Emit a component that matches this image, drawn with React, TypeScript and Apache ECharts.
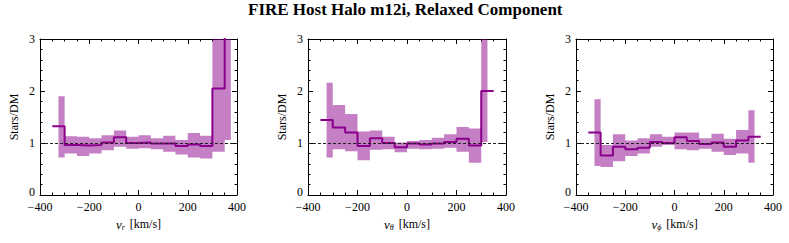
import React, { useEffect, useRef } from 'react';
import * as echarts from 'echarts';

const TITLE = 'FIRE Host Halo m12i, Relaxed Component';
const Y_NAME = 'Stars/DM';
const X_NAMES = ['{v|v}{s|r} [km/s]', '{v|v}{s|θ} [km/s]', '{v|v}{s|ϕ} [km/s]'];

// Panel 1: v_r
const vrLineEdges = [-350, -300, -250, -200, -150, -100, -50, 0, 50, 100, 150, 200, 250, 300, 350, 400];
const vrLine = [1.32, 0.96, 0.95, 0.96, 1.01, 1.11, 1.0, 1.01, 0.99, 0.99, 0.94, 0.97, 0.94, 2.05, 3.6];
const vrBandEdges = [-325, -300, -250, -200, -150, -100, -50, 0, 50, 100, 150, 200, 250, 300, 350, 375];
const vrLo = [0.72, 0.8, 0.75, 0.8, 0.86, 0.93, 0.89, 0.9, 0.88, 0.83, 0.78, 0.72, 0.7, 0.83, 1.06];
const vrHi = [1.9, 1.13, 1.12, 1.09, 1.15, 1.24, 1.12, 1.15, 1.09, 1.14, 1.06, 1.19, 1.14, 3.6, 3.6];

// Panel 2: v_theta
const vthLineEdges = [-350, -300, -250, -200, -150, -100, -50, 0, 50, 100, 150, 200, 250, 300, 350];
const vthLine = [1.44, 1.3, 1.2, 0.94, 1.09, 1.0, 0.92, 0.99, 0.97, 0.99, 1.02, 1.08, 0.95, 2.0];
const vthBandEdges = [-325, -300, -250, -200, -150, -100, -50, 0, 50, 100, 150, 200, 250, 300, 325];
const vthLo = [0.72, 0.88, 0.84, 0.67, 0.87, 0.88, 0.82, 0.89, 0.88, 0.89, 0.91, 0.83, 0.62, 1.02];
const vthHi = [2.16, 1.73, 1.56, 1.22, 1.24, 1.12, 1.01, 1.04, 1.06, 1.1, 1.17, 1.31, 1.28, 3.6];

// Panel 3: v_phi
const vphLineEdges = [-350, -300, -250, -200, -150, -100, -50, 0, 50, 100, 150, 200, 250, 300, 350];
const vphLine = [1.2, 0.76, 0.93, 0.88, 0.91, 1.02, 1.0, 1.11, 1.04, 0.98, 1.01, 0.93, 1.05, 1.12];
const vphBandEdges = [-325, -300, -250, -200, -150, -100, -50, 0, 50, 100, 150, 200, 250, 300, 325];
const vphLo = [0.56, 0.54, 0.65, 0.75, 0.8, 0.93, 0.96, 0.88, 0.86, 0.89, 0.83, 0.77, 0.8, 0.62];
const vphHi = [1.84, 0.96, 1.17, 1.05, 1.09, 1.17, 1.12, 1.2, 1.2, 1.09, 1.18, 1.08, 1.25, 1.63];

const REF_LEVEL = 1;

const PANELS = [
  { lineEdges: vrLineEdges, line: vrLine, bandEdges: vrBandEdges, lo: vrLo, hi: vrHi, left: 40, width: 197 },
  { lineEdges: vthLineEdges, line: vthLine, bandEdges: vthBandEdges, lo: vthLo, hi: vthHi, left: 308, width: 198 },
  { lineEdges: vphLineEdges, line: vphLine, bandEdges: vphBandEdges, lo: vphLo, hi: vphHi, left: 576, width: 197 },
];

const FONT = 'Liberation Serif';
const PURPLE = '#8b008b';

function fmt(v: number) {
  return v < 0 ? '\u2212' + Math.abs(v) : String(v);
}

export default function App() {
  const ref = useRef<HTMLDivElement>(null);
  useEffect(() => {
    const chart = echarts.init(ref.current!, null, { renderer: 'svg' });
    const grid: any[] = [];
    const xAxis: any[] = [];
    const yAxis: any[] = [];
    const series: any[] = [];
    const axLine = { show: true, onZero: false, lineStyle: { color: '#000', width: 1 } };
    PANELS.forEach((p, i) => {
      grid.push({ left: p.left, top: 39, width: p.width, height: 156 });
      const xBase = {
        type: 'value', gridIndex: i, min: -400, max: 400, interval: 200,
        axisLine: axLine, splitLine: { show: false },
        axisTick: { show: true, inside: true, length: 5, lineStyle: { color: '#000' } },
        minorTick: { show: true, splitNumber: 4, length: 2.5, lineStyle: { color: '#000' } },
      };
      xAxis.push({
        ...xBase, position: 'bottom',
        axisLabel: { margin: 7, fontFamily: FONT, fontSize: 12, lineHeight: 10, color: '#000', formatter: fmt },
        name: X_NAMES[i], nameLocation: 'middle', nameGap: 14,
        nameTextStyle: {
          fontFamily: FONT, fontSize: 12, color: '#000',
          rich: {
            v: { fontFamily: FONT, fontSize: 13, fontStyle: 'italic', color: '#000', verticalAlign: 'bottom', lineHeight: 15 },
            s: { fontFamily: FONT, fontSize: 8, fontStyle: 'italic', color: '#000', verticalAlign: 'bottom', lineHeight: 9, padding: [0, 2, 0, 0] },
          },
        },
      });
      xAxis.push({ ...xBase, position: 'top', axisLabel: { show: false } });
      const yBase = {
        type: 'value', gridIndex: i, min: 0, max: 3, interval: 1,
        axisLine: axLine, splitLine: { show: false },
        axisTick: { show: true, inside: true, length: 5, lineStyle: { color: '#000' } },
        minorTick: { show: true, splitNumber: 5, length: 2.5, lineStyle: { color: '#000' } },
      };
      yAxis.push({
        ...yBase, position: 'left',
        axisLabel: {
          margin: 5, fontFamily: FONT, fontSize: 12, lineHeight: 10, color: '#000',
          formatter: (v: number) => (v === 0 ? '{z|0}' : String(v)),
          rich: { z: { fontFamily: FONT, fontSize: 12, color: '#000', padding: [0, 0, 6, 0] } },
        },
        name: Y_NAME, nameLocation: 'middle', nameGap: 20, nameRotate: 90,
        nameTextStyle: { fontFamily: FONT, fontSize: 12, color: '#000' },
      });
      yAxis.push({ ...yBase, position: 'right', axisLabel: { show: false } });

      const xi = i * 2;
      const yi = i * 2;
      series.push({
        type: 'custom', xAxisIndex: xi, yAxisIndex: yi, silent: true, z: 1,
        data: [[0, 0]],
        renderItem: (params: any, api: any) => {
          const pts: number[][] = [];
          for (let k = 0; k < p.hi.length; k++) {
            pts.push(api.coord([p.bandEdges[k], p.hi[k]]));
            pts.push(api.coord([p.bandEdges[k + 1], p.hi[k]]));
          }
          for (let k = p.lo.length - 1; k >= 0; k--) {
            pts.push(api.coord([p.bandEdges[k + 1], p.lo[k]]));
            pts.push(api.coord([p.bandEdges[k], p.lo[k]]));
          }
          const cs = params.coordSys;
          const clipped = echarts.graphic.clipPointsByRect(pts, { x: cs.x, y: cs.y, width: cs.width, height: cs.height });
          return {
            type: 'polygon',
            shape: { points: clipped },
            style: { fill: 'rgba(139,0,139,0.5)', stroke: 'none' },
          };
        },
      });
      series.push({
        type: 'line', xAxisIndex: xi, yAxisIndex: yi, step: 'end', symbol: 'none', z: 3,
        clip: true,
        lineStyle: { color: PURPLE, width: 2 },
        data: p.lineEdges.map((x, k) => [x, p.line[Math.min(k, p.line.length - 1)]]),
      });
      series.push({
        type: 'line', xAxisIndex: xi, yAxisIndex: yi, symbol: 'none', z: 4, silent: true,
        data: [],
        markLine: {
          silent: true, symbol: 'none', label: { show: false },
          lineStyle: { color: '#222', width: 1, type: [3, 2] },
          data: [{ yAxis: REF_LEVEL }],
        },
      });
    });
    chart.setOption({
      animation: false,
      backgroundColor: '#fff',
      title: {
        text: TITLE, left: 248, top: 1, padding: 0,
        textStyle: { fontFamily: FONT, fontWeight: 'bold', fontSize: 17, color: '#000' },
      },
      grid, xAxis, yAxis, series,
    });
    return () => chart.dispose();
  }, []);
  return <div ref={ref} style={{ position: 'absolute', left: 0, top: 0, width: 789, height: 243 }} />;
}
